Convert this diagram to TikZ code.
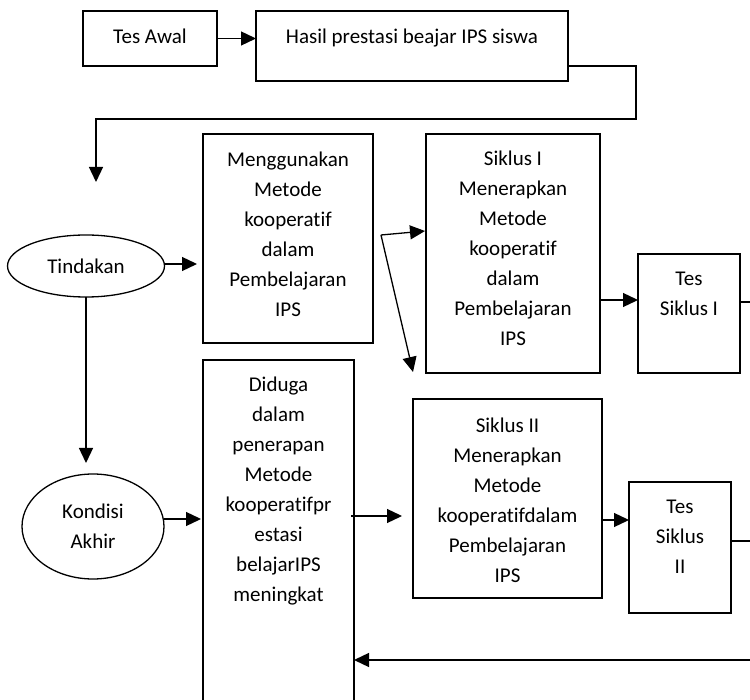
\documentclass[tikz,border=0pt]{standalone}
\usepackage{fontspec}
\setmainfont{Carlito}[Ligatures={NoCommon}]
\usetikzlibrary{arrows.meta,shapes.geometric}
\begin{document}
\begin{tikzpicture}[x=1pt,y=-1pt,
  box/.style={draw, line width=1.3pt, inner sep=0pt, outer sep=0pt},
  oval/.style={draw, ellipse, line width=1.3pt, inner sep=0pt, outer sep=0pt, align=center, font=\fontsize{21}{30}\selectfont},
  txt/.style={anchor=north, inner sep=0pt, align=center, font=\fontsize{21}{30}\selectfont},
  conn/.style={line width=1.3pt},
  arr/.style={conn, -{Triangle[length=15pt,width=14pt]}}]
\useasboundingbox (0,0) rectangle (750,700);
% boxes
\node[box, minimum width=134pt, minimum height=55pt] (tesawal) at (150,38.5) {};
\node[txt] (tesawalt) at (150,22) {\strut Tes Awal};
\node[box, minimum width=312pt, minimum height=70pt] (hasil) at (412,46) {};
\node[txt] (hasilt) at (412,22) {\strut Hasil prestasi beajar IPS siswa};
\node[box, minimum width=170pt, minimum height=209pt] (meng) at (288,238.5) {};
\node[txt] (mengt) at (288,145) {\strut Menggunakan\\Metode\\kooperatif\\dalam\\Pembelajaran\\IPS};
\node[box, minimum width=174pt, minimum height=239pt] (sik1) at (513,253.5) {};
\node[txt] (sik1t) at (513,144) {\strut Siklus I\\Menerapkan\\Metode\\kooperatif\\dalam\\Pembelajaran\\IPS};
\node[box, minimum width=102pt, minimum height=119pt] (tes1) at (689,313.5) {};
\node[txt] (tes1t) at (689,264) {\strut Tes\\Siklus I};
\node[box, minimum width=151pt, minimum height=350pt] (diduga) at (278.5,535) {};
\node[txt] (didugat) at (278.5,370) {\strut Diduga\\dalam\\penerapan\\Metode\\kooperatifpr\\estasi\\belajarIPS\\meningkat};
\node[box, minimum width=189pt, minimum height=199pt] (sik2) at (507.5,498.5) {};
\node[txt] (sik2t) at (507.5,411) {\strut Siklus II\\Menerapkan\\Metode\\kooperatifdalam\\Pembelajaran\\IPS};
\node[box, minimum width=102pt, minimum height=131pt] (tes2) at (680,547.5) {};
\node[txt] (tes2t) at (680,492) {\strut Tes\\Siklus\\II};
% ellipses
\node[oval, minimum width=157pt, minimum height=62pt] (tind) at (86,266) {Tindakan};
\node[oval, minimum width=142pt, minimum height=105pt] (kond) at (93,526.5) {Kondisi\\Akhir};
% coordinates
\coordinate (hturn) at (636,66);
\coordinate (hleft) at (96,119);
\coordinate (hdown) at (96,182);
\coordinate (tm) at (197,264);
\coordinate (kd) at (86,463);
\coordinate (sp) at (381,235);
\coordinate (sp1) at (425,231);
\coordinate (sp2) at (413,372);
\coordinate (a1) at (0,300);
\coordinate (e1) at (750,302);
\coordinate (k1) at (201,519);
\coordinate (d1) at (351,516);
\coordinate (d2) at (402,516);
\coordinate (a2) at (0,520);
\coordinate (e2) at (750,541);
\coordinate (b1) at (750,660);
% connectors
\draw[arr] (tesawal.east) -- (tesawal.east -| hasil.west);
\draw[arr] (hturn -| hasil.east) -- (hturn) |- (hleft) -- (hdown);
\draw[arr] (tind.east |- tm) -- (tm);
\draw[arr] (tind.south) -- (kd);
\draw[arr] (sp) -- (sp1);
\draw[arr] (sp) -- (sp2);
\draw[arr] (sik1.east |- a1) -- (tes1.west |- a1);
\draw[conn] (tes1.east |- e1) -- (e1);
\draw[arr] (kond.east |- k1) -- (k1);
\draw[arr] (d1) -- (d2);
\draw[arr] (sik2.east |- a2) -- (tes2.west |- a2);
\draw[conn] (tes2.east |- e2) -- (e2);
\draw[arr] (b1) -- (diduga.east |- b1);
\end{tikzpicture}
\end{document}
